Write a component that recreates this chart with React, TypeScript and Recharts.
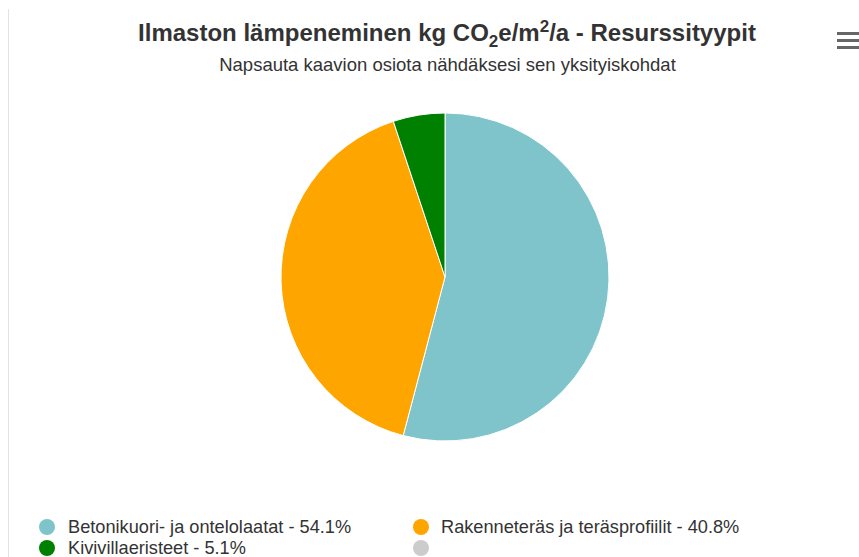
import React from "react";
import { PieChart, Pie, Cell } from "recharts";

const categories = [
  "Betonikuori- ja ontelolaatat",
  "Rakenneteräs ja teräsprofiilit",
  "Kivivillaeristeet",
  "",
];
const shares = [54.1, 40.8, 5.1, 0];
const colors = ["#7fc3cb", "#ffa500", "#008000", "#cccccc"];

const data = categories.map((name, i) => ({ name, value: shares[i] }));

const FONT = "'Liberation Sans', Arial, sans-serif";

export default function App() {
  return (
    <div style={{ position: "absolute", left: 0, top: 0, width: 859, height: 557, background: "#fff", fontFamily: FONT, overflow: "hidden" }}>
      <div style={{ position: "absolute", left: 8, top: 9, width: 1, height: 548, background: "#e3e3e3" }} />
      <div style={{ position: "absolute", left: 0, top: 18, width: 894, textAlign: "center", fontSize: 24, lineHeight: "30px", fontWeight: "bold", color: "#333", whiteSpace: "nowrap" }}>
        Ilmaston lämpeneminen kg CO<sub style={{ fontSize: 17, lineHeight: 0 }}>2</sub>e/m<sup style={{ fontSize: 17, lineHeight: 0 }}>2</sup>/a - Resurssityypit
      </div>
      <div style={{ position: "absolute", left: 0, top: 54, width: 895, textAlign: "center", fontSize: 18.5, lineHeight: "22px", color: "#333", whiteSpace: "nowrap" }}>
        Napsauta kaavion osiota nähdäksesi sen yksityiskohdat
      </div>
      <div style={{ position: "absolute", left: 837, top: 32, width: 24 }}>
        {[0, 1, 2].map((i) => (
          <div key={i} style={{ height: 3, background: "#666", marginBottom: 4 }} />
        ))}
      </div>
      <div style={{ position: "absolute", left: 0, top: 0 }}>
        <PieChart width={859} height={557} margin={{ top: 0, right: 0, bottom: 0, left: 0 }}>
          <Pie
            data={data}
            dataKey="value"
            nameKey="name"
            cx={445}
            cy={277}
            outerRadius={164}
            startAngle={90}
            endAngle={-270}
            stroke="#ffffff"
            strokeWidth={1}
            isAnimationActive={false}
          >
            {data.map((d, i) => (
              <Cell key={i} fill={colors[i]} />
            ))}
          </Pie>
        </PieChart>
      </div>
      {data.map((d, i) => {
        const col = i % 2;
        const row = Math.floor(i / 2);
        const x = col === 0 ? 39 : 413;
        const y = 516 + row * 21;
        return (
          <div key={i} style={{ position: "absolute", left: x, top: y, height: 22, display: "flex", alignItems: "center", whiteSpace: "nowrap" }}>
            <div style={{ width: 16, height: 16, borderRadius: 8, background: colors[i], marginRight: col === 0 ? 13 : 12, flex: "none" }} />
            <span style={{ fontSize: 18.2, color: "#333", lineHeight: "22px" }}>
              {d.name ? `${d.name} - ${d.value.toFixed(1)}%` : ""}
            </span>
          </div>
        );
      })}
    </div>
  );
}
